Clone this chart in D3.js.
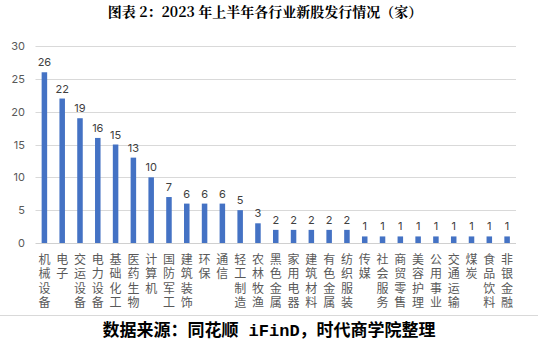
<!DOCTYPE html>
<html><head><meta charset="utf-8">
<script src="https://cdn.jsdelivr.net/npm/d3@7"></script>
<style>body{margin:0;background:#fff}svg{display:block}</style>
</head><body>
<svg id="c" width="538" height="347"></svg>
<script>
const categories = ["机械设备","电子","交运设备","电力设备","基础化工","医药生物","计算机","国防军工","建筑装饰","环保","通信","轻工制造","农林牧渔","黑色金属","家用电器","建筑材料","有色金属","纺织服装","传媒","社会服务","商贸零售","美容护理","公用事业","交通运输","煤炭","食品饮料","非银金融"];
const values = [26,22,19,16,15,13,10,7,6,6,6,5,3,2,2,2,2,2,1,1,1,1,1,1,1,1,1];
const yTicks = [0,5,10,15,20,25,30];
const title = "图表 2：2023 年上半年各行业新股发行情况（家）";
const sourceParts = ["数据来源：同花顺", " iFinD", "，时代商学院整理"];

const svg = d3.select("#c");
const x = d3.scaleBand().domain(categories).range([35.5, 516]).paddingInner(0.69).paddingOuter(0.345);
const y = d3.scaleLinear().domain([0,30]).range([243, 46]);

svg.append("text").attr("x",265).attr("y",17).attr("text-anchor","middle")
  .attr("font-family","'Noto Serif CJK SC','Liberation Serif','Noto Sans CJK SC',serif")
  .attr("font-weight","bold").attr("font-size",14).attr("fill","#000").text(title);

// gridlines
svg.append("g").selectAll("line").data(yTicks).join("line")
  .attr("x1",35.5).attr("x2",516).attr("y1",d=>Math.round(y(d))+0.5).attr("y2",d=>Math.round(y(d))+0.5)
  .attr("stroke",d=>d===0?"#d0d0d0":"#d9d9d9").attr("stroke-width",1);

// y axis labels
const yAxis = d3.axisLeft(y).tickValues(yTicks).tickSize(0).tickPadding(0);
const ga = svg.append("g").attr("transform","translate(25,0)").call(yAxis);
ga.select(".domain").remove();
ga.selectAll("text").attr("font-family","Inter,'Open Sans',sans-serif").attr("font-size",11).attr("fill","#595959");

// bars
svg.append("g").selectAll("rect").data(values).join("rect")
  .attr("x",(d,i)=>x(categories[i])).attr("width",x.bandwidth())
  .attr("y",d=>y(d)).attr("height",d=>y(0)-y(d)).attr("fill","#4472C4");

// value labels
svg.append("g").selectAll("text").data(values).join("text")
  .attr("x",(d,i)=>x(categories[i])+x.bandwidth()/2).attr("y",d=>y(d)-6)
  .attr("text-anchor","middle").attr("font-family","Inter,'Open Sans',sans-serif")
  .attr("font-size",11).attr("fill","#404040").text(d=>d);

// x labels, vertical writing
svg.append("g").selectAll("text").data(categories).join("text")
  .attr("x",d=>x(d)+x.bandwidth()/2).attr("y",253)
  .style("writing-mode","vertical-rl").style("text-orientation","upright")
  .style("letter-spacing","2.5px")
  .attr("font-family","'Noto Sans CJK SC',sans-serif").attr("font-size",12).attr("fill","#595959")
  .text(d=>d);

// footer
svg.append("line").attr("x1",0).attr("x2",538).attr("y1",315.5).attr("y2",315.5).attr("stroke","#d9d9d9");
const ft = svg.append("text").attr("x",269).attr("y",336).attr("text-anchor","middle")
  .attr("font-family","'Noto Sans CJK SC',sans-serif").attr("font-weight","bold").attr("font-size",17)
  .attr("fill","#000").attr("xml:space","preserve").style("white-space","pre");
sourceParts.forEach((p,i)=>{
  const ts = ft.append("tspan").text(p);
  if(i===1) ts.attr("font-family","'Liberation Mono','DejaVu Sans Mono',monospace");
});
</script>
</body></html>
